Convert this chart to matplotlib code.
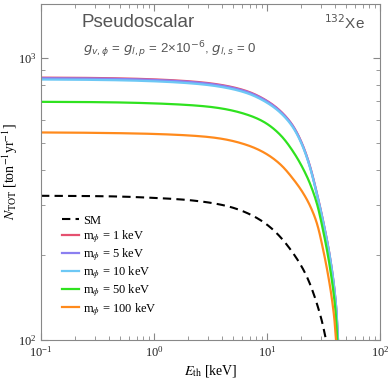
import numpy as np
import matplotlib
matplotlib.use("Agg")
import matplotlib.pyplot as plt
from matplotlib.ticker import LogLocator, NullFormatter

# Threshold energies [keV]
E = [0.1, 0.333, 0.923, 3.33, 6.65, 9.22, 13.0, 17.0, 20.8, 24.0, 27.7, 31.3, 36.1, 39.2, 41.2, 42.5]
N_1 = [849, 846, 838, 808, 760, 716, 649, 572, 487, 412, 329, 265, 196, 155, 126, 100]
N_5 = [845, 842, 834, 804, 756, 713, 646, 570, 485, 411, 328, 264, 196, 155, 126, 100]
N_10 = [836, 833, 825, 795, 748, 705, 640, 565, 482, 408, 326, 263, 195, 154, 126, 100]

E_50 = [0.1, 0.333, 0.923, 3.33, 6.65, 9.22, 13.0, 17.0, 20.8, 24.0, 27.7, 31.3, 36.1, 39.2, 40.8, 41.9]
N_50 = [697, 695, 689, 667, 628, 594, 534, 465, 405, 358, 303, 245, 180, 142, 120, 100]

E_100 = [0.1, 0.333, 0.923, 3.33, 6.65, 9.22, 13.0, 17.0, 20.8, 24.0, 27.7, 31.3, 34.7, 37.6, 39.5, 40.8]
N_100 = [543, 541, 537, 521, 490, 463, 420, 372, 332, 299, 258, 210, 170, 139, 118, 100]

E_sm = [0.1, 0.333, 0.923, 2.0, 3.33, 4.71, 7.0, 10.0, 16.0, 22.6, 28.2, 30.7, 33.3]
N_sm = [324, 323, 319, 313, 305, 296, 279, 256, 210, 167, 131, 116, 100]

labels = ["SM", "m$_\\phi$ = 1 keV", "m$_\\phi$ = 5 keV", "m$_\\phi$ = 10 keV",
          "m$_\\phi$ = 50 keV", "m$_\\phi$ = 100 keV"]
colors = ["#e5506f", "#8b7ff0", "#6dc8f5", "#2fe21f", "#ff8a1c"]

plt.rcParams["mathtext.fontset"] = "stix"
serif = ["Liberation Serif", "DejaVu Serif"]

fig = plt.figure(figsize=(3.88, 3.79), dpi=100)
ax = fig.add_axes([0.1057, 0.1029, 0.8737, 0.8871])

def smooth(x, y, n=400):
    # monotone cubic interpolation of log N against linear E, for drawing only
    lx = np.asarray(x, dtype=float)
    ly = np.log10(y)
    xs = np.logspace(np.log10(lx[0]), np.log10(lx[-1]), n)
    h = np.diff(lx)
    d = np.diff(ly) / h
    m = np.zeros_like(ly)
    m[0] = d[0]
    m[-1] = d[-1]
    for i in range(1, len(ly) - 1):
        if d[i - 1] * d[i] <= 0:
            m[i] = 0
        else:
            w1 = 2 * h[i] + h[i - 1]
            w2 = h[i] + 2 * h[i - 1]
            m[i] = (w1 + w2) / (w1 / d[i - 1] + w2 / d[i])
    idx = np.clip(np.searchsorted(lx, xs) - 1, 0, len(lx) - 2)
    t = (xs - lx[idx]) / h[idx]
    h00 = 2 * t**3 - 3 * t**2 + 1
    h10 = t**3 - 2 * t**2 + t
    h01 = -2 * t**3 + 3 * t**2
    h11 = t**3 - t**2
    ys = h00 * ly[idx] + h10 * h[idx] * m[idx] + h01 * ly[idx + 1] + h11 * h[idx] * m[idx + 1]
    return xs, 10**ys

x, y = smooth(E_sm, N_sm)
ax.plot(x, y, color="black", lw=1.5, ls=(0, (4, 2.5)), label=labels[0])
for (ex, ny, c, lab) in [(E, N_1, colors[0], labels[1]), (E, N_5, colors[1], labels[2]),
                         (E, N_10, colors[2], labels[3]), (E_50, N_50, colors[3], labels[4]),
                         (E_100, N_100, colors[4], labels[5])]:
    x, y = smooth(ex, ny)
    ax.plot(x, y, color=c, lw=1.6, label=lab)

ax.set_xscale("log")
ax.set_yscale("log")
ax.set_xlim(0.1, 100)
ax.set_ylim(100, 1550)

gray = "#888888"
for s in ax.spines.values():
    s.set_color(gray)
    s.set_linewidth(0.8)
ax.tick_params(which="both", direction="in", top=True, right=True, color=gray,
               labelsize=9, labelcolor="#222222")
ax.tick_params(which="major", length=5)
ax.tick_params(which="minor", length=3)
ax.xaxis.set_minor_locator(LogLocator(base=10, subs=np.arange(2, 10)))
ax.yaxis.set_minor_locator(LogLocator(base=10, subs=np.arange(2, 10)))
ax.xaxis.set_minor_formatter(NullFormatter())
ax.yaxis.set_minor_formatter(NullFormatter())
for lab in ax.get_xticklabels() + ax.get_yticklabels():
    lab.set_family(serif)

ax.set_xlabel("$E_{\\rm th}$ [keV]", fontsize=10, family=serif)
ax.set_ylabel("$N_{\\rm TOT}$ [ton$^{-1}$yr$^{-1}$]", fontsize=10, family=serif)
ax.xaxis.set_label_coords(0.5, -0.068)
ax.yaxis.set_label_coords(-0.062, 0.5)

ax.text(0.118, 0.944, "Pseudoscalar", transform=ax.transAxes, fontsize=13.5,
        color="#555555", family="Liberation Sans", va="center")
ax.text(0.955, 0.944, "$^{132}$Xe", transform=ax.transAxes, fontsize=11,
        color="#555555", family="Liberation Sans", ha="right", va="center",
        math_fontfamily="dejavusans")
ax.text(0.125, 0.862,
        "$g_{v,\\phi}$ = $g_{l,p}$ = 2×10$^{-6}$, $g_{l,s}$ = 0",
        transform=ax.transAxes, fontsize=9.5, color="#555555",
        family="Liberation Sans", va="center", math_fontfamily="dejavusans")

leg = ax.legend(loc="upper left", bbox_to_anchor=(0.047, 0.388), frameon=False,
                prop={"family": serif, "size": 9}, handlelength=1.36,
                handletextpad=0.32, labelspacing=0.12, borderaxespad=0)

fig.savefig("out.png", dpi=100)
